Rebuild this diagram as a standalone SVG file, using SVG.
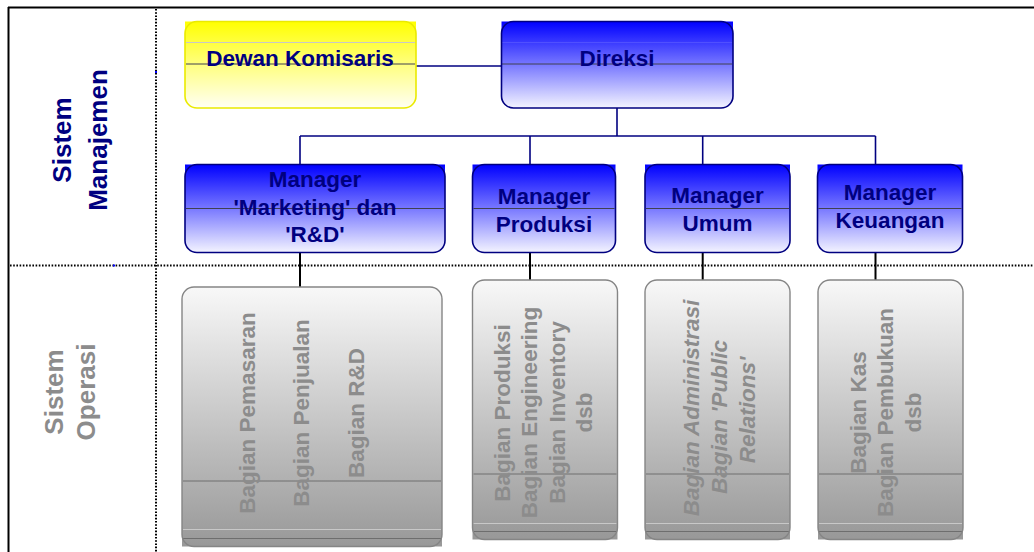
<svg xmlns="http://www.w3.org/2000/svg" width="1034" height="552" viewBox="0 0 1034 552">
<defs>
<linearGradient id="gBlue" x1="0" y1="0" x2="0" y2="1">
<stop offset="0" stop-color="#0000ff"/>
<stop offset="0.5" stop-color="#7878ff"/>
<stop offset="1" stop-color="#f4f4ff"/>
</linearGradient>
<linearGradient id="gYellow" x1="0" y1="0" x2="0" y2="1">
<stop offset="0" stop-color="#ffff00"/>
<stop offset="0.5" stop-color="#ffff80"/>
<stop offset="1" stop-color="#fffff4"/>
</linearGradient>
<linearGradient id="gGray" x1="0" y1="0" x2="0" y2="1">
<stop offset="0" stop-color="#f8f8f8"/>
<stop offset="0.75" stop-color="#b0b0b0"/>
<stop offset="1" stop-color="#989898"/>
</linearGradient>
</defs>
<style>
.t{font-family:"Liberation Sans",Arial,sans-serif;font-weight:bold;font-size:22.5px;text-anchor:middle}
.navy{fill:#000080}
.gt{fill:#8c8c8c}
.it{font-style:italic}
.lbl{font-size:26px}
.bst{fill:none;stroke:#000080;stroke-width:1.6}
.yst{fill:none;stroke:#eaea00;stroke-width:1.6}
.gst{fill:none;stroke:#858585;stroke-width:1.4}
.mid{stroke:#404050;stroke-width:1}
.faint{stroke:#c8c8c8;stroke-width:1}
.gmid{stroke:#6e6e6e;stroke-width:1}
.con{fill:none;stroke:#000080;stroke-width:1.6}
.drop{fill:none;stroke:#000000;stroke-width:2}
.dot{fill:none;stroke:#000000;stroke-width:2;stroke-dasharray:1.6 1.6}
</style>

<g id="frame">
<line x1="8" y1="7.5" x2="1034" y2="7.5" stroke="#000" stroke-width="2"/>
<line x1="8.5" y1="7" x2="8.5" y2="552" stroke="#000" stroke-width="2"/>
<line class="dot" x1="156" y1="9" x2="156" y2="552"/>
<line class="dot" x1="10" y1="265.5" x2="1034" y2="265.5"/>
<rect x="155" y="71" width="2" height="2" fill="#0000ff"/>
<rect x="113" y="264.5" width="2" height="2" fill="#0000ff"/>
</g>

<g id="labels">
<text class="t navy lbl" transform="translate(71,140) rotate(-90)">Sistem</text>
<text class="t navy lbl" transform="translate(107,140) rotate(-90)">Manajemen</text>
<text class="t gt lbl" transform="translate(62.5,392) rotate(-90)">Sistem</text>
<text class="t gt lbl" transform="translate(95,392) rotate(-90)">Operasi</text>
</g>

<g id="connectors">
<line class="con" x1="416" y1="66" x2="501.5" y2="66"/>
<line class="con" x1="617" y1="108" x2="617" y2="136"/>
<line class="con" x1="300" y1="136" x2="875.5" y2="136"/>
<line class="con" x1="300" y1="136" x2="300" y2="164.5"/>
<line class="con" x1="530" y1="136" x2="530" y2="164.5"/>
<line class="con" x1="702.7" y1="136" x2="702.7" y2="164.5"/>
<line class="con" x1="875.5" y1="136" x2="875.5" y2="164.5"/>
<line class="drop" x1="300" y1="252.5" x2="300" y2="287"/>
<line class="drop" x1="530" y1="252.5" x2="530" y2="280"/>
<line class="drop" x1="702.7" y1="252.5" x2="702.7" y2="280"/>
<line class="drop" x1="875.5" y1="252.5" x2="875.5" y2="280"/>
</g>

<g id="dewan-komisaris">
<path d="M185 21.5 H416 V96 A12 12 0 0 1 404 108 H197 A12 12 0 0 1 185 96 Z" fill="url(#gYellow)"/>
<line class="faint" x1="186" y1="42.5" x2="415" y2="42.5" stroke="#e8e8a0"/>
<line class="mid" x1="186" y1="64" x2="415" y2="64"/>
<rect class="yst" x="185" y="21.5" width="231" height="86.5" rx="12"/>
<text class="t navy" x="300" y="65.5">Dewan Komisaris</text>
</g>

<g id="direksi">
<path d="M501.5 21.5 H733 V96 A12 12 0 0 1 721 108 H513.5 A12 12 0 0 1 501.5 96 Z" fill="url(#gBlue)"/>
<line x1="502" y1="42.5" x2="732" y2="42.5" stroke="#5050ff" stroke-width="1"/>
<line class="mid" x1="502" y1="64" x2="732" y2="64"/>
<rect class="bst" x="501.5" y="21.5" width="231.5" height="86.5" rx="12"/>
<text class="t navy" x="617" y="65.5">Direksi</text>
</g>

<g id="mgr-marketing">
<path d="M185 164.5 H445 V240.5 A12 12 0 0 1 433 252.5 H197 A12 12 0 0 1 185 240.5 Z" fill="url(#gBlue)"/>
<line class="mid" x1="186" y1="208.5" x2="444" y2="208.5"/>
<rect class="bst" x="185" y="164.5" width="260" height="88" rx="12"/>
<text class="t navy" x="315" y="187">Manager</text>
<text class="t navy" x="315" y="214.5">'Marketing' dan</text>
<text class="t navy" x="315" y="242">'R&amp;D'</text>
</g>

<g id="mgr-produksi">
<path d="M472.5 164.5 H615.5 V240.5 A12 12 0 0 1 603.5 252.5 H484.5 A12 12 0 0 1 472.5 240.5 Z" fill="url(#gBlue)"/>
<line class="mid" x1="473.5" y1="208.5" x2="614.5" y2="208.5"/>
<rect class="bst" x="472.5" y="164.5" width="143" height="88" rx="12"/>
<text class="t navy" x="544" y="204">Manager</text>
<text class="t navy" x="544" y="231.5">Produksi</text>
</g>

<g id="mgr-umum">
<path d="M645 164.5 H790 V240.5 A12 12 0 0 1 778 252.5 H657 A12 12 0 0 1 645 240.5 Z" fill="url(#gBlue)"/>
<line class="mid" x1="646" y1="208.5" x2="789" y2="208.5"/>
<rect class="bst" x="645" y="164.5" width="145" height="88" rx="12"/>
<text class="t navy" x="717.5" y="203">Manager</text>
<text class="t navy" x="717.5" y="230.5">Umum</text>
</g>

<g id="mgr-keuangan">
<path d="M817.5 164.5 H962.5 V240.5 A12 12 0 0 1 950.5 252.5 H829.5 A12 12 0 0 1 817.5 240.5 Z" fill="url(#gBlue)"/>
<line class="mid" x1="818.5" y1="208.5" x2="961.5" y2="208.5"/>
<rect class="bst" x="817.5" y="164.5" width="145" height="88" rx="12"/>
<text class="t navy" x="890" y="200">Manager</text>
<text class="t navy" x="890" y="228">Keuangan</text>
</g>

<g id="op-marketing">
<path d="M182 546.5 V299 A12 12 0 0 1 194 287 H430 A12 12 0 0 1 442 299 V546.5 Z" fill="url(#gGray)"/>
<line class="gmid" x1="183" y1="481" x2="441" y2="481"/>
<line class="faint" x1="183" y1="529.5" x2="441" y2="529.5"/>
<line class="gmid" x1="183" y1="538.5" x2="441" y2="538.5"/>
<rect class="gst" x="182" y="287" width="260" height="259.5" rx="12"/>
<text class="t gt" transform="translate(254.5,413) rotate(-90)">Bagian Pemasaran</text>
<text class="t gt" transform="translate(309,413) rotate(-90)">Bagian Penjualan</text>
<text class="t gt" transform="translate(364,413) rotate(-90)">Bagian R&amp;D</text>
</g>

<g id="op-produksi">
<path d="M472.5 539.5 V292 A12 12 0 0 1 484.5 280 H605.5 A12 12 0 0 1 617.5 292 V539.5 Z" fill="url(#gGray)"/>
<line class="gmid" x1="473.5" y1="474" x2="616.5" y2="474"/>
<line class="faint" x1="473.5" y1="523.5" x2="616.5" y2="523.5"/>
<line class="gmid" x1="473.5" y1="531.5" x2="616.5" y2="531.5"/>
<rect class="gst" x="472.5" y="280" width="145" height="259.5" rx="12"/>
<text class="t gt" transform="translate(509.5,413) rotate(-90)">Bagian Produksi</text>
<text class="t gt" transform="translate(537,412.5) rotate(-90)">Bagian Engineering</text>
<text class="t gt" transform="translate(564.5,412.5) rotate(-90)">Bagian Inventory</text>
<text class="t gt" transform="translate(591.5,412.5) rotate(-90)">dsb</text>
</g>

<g id="op-umum">
<path d="M645 539.5 V292 A12 12 0 0 1 657 280 H778 A12 12 0 0 1 790 292 V539.5 Z" fill="url(#gGray)"/>
<line class="gmid" x1="646" y1="474" x2="789" y2="474"/>
<line class="faint" x1="646" y1="523.5" x2="789" y2="523.5"/>
<line class="gmid" x1="646" y1="531.5" x2="789" y2="531.5"/>
<rect class="gst" x="645" y="280" width="145" height="259.5" rx="12"/>
<text class="t gt it" transform="translate(699,408) rotate(-90)">Bagian Administrasi</text>
<text class="t gt it" transform="translate(727,417) rotate(-90)">Bagian 'Public</text>
<text class="t gt it" transform="translate(755,410) rotate(-90)">Relations'</text>
</g>

<g id="op-keuangan">
<path d="M818 539.5 V292 A12 12 0 0 1 830 280 H951 A12 12 0 0 1 963 292 V539.5 Z" fill="url(#gGray)"/>
<line class="gmid" x1="819" y1="474" x2="962" y2="474"/>
<line class="faint" x1="819" y1="523.5" x2="962" y2="523.5"/>
<line class="gmid" x1="819" y1="531.5" x2="962" y2="531.5"/>
<rect class="gst" x="818" y="280" width="145" height="259.5" rx="12"/>
<text class="t gt" transform="translate(866,412.5) rotate(-90)">Bagian Kas</text>
<text class="t gt" transform="translate(893,412.5) rotate(-90)">Bagian Pembukuan</text>
<text class="t gt" transform="translate(920.5,412.5) rotate(-90)">dsb</text>
</g>
</svg>
